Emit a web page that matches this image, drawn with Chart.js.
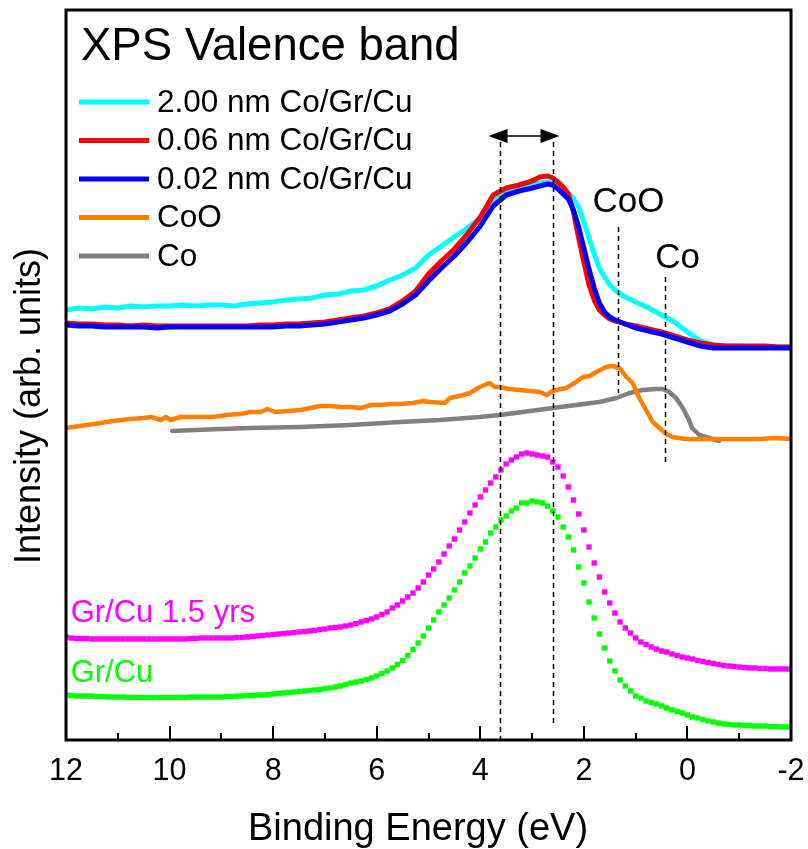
<!DOCTYPE html>
<html><head><meta charset="utf-8">
<script src="https://cdn.jsdelivr.net/npm/chart.js@4/dist/chart.umd.min.js"></script>
<style>html,body{margin:0;padding:0;background:#fff}#wrap{width:808px;height:849px;position:relative}</style>
</head><body><div id="wrap"><canvas id="c" width="808" height="849"></canvas></div>
<script>
// ---------- DATA (binding energy in eV, intensity in arb. units) ----------
const seriesNames = ['2.00 nm Co/Gr/Cu', '0.06 nm Co/Gr/Cu', '0.02 nm Co/Gr/Cu', 'CoO', 'Co'];
const grNames = ['Gr/Cu 1.5 yrs', 'Gr/Cu'];
const chartTitle = 'XPS Valence band';
const xTitle = 'Binding Energy (eV)';
const yTitle = 'Intensity (arb. units)';
const majorTicks = [12, 10, 8, 6, 4, 2, 0, -2];
const minorTicks = [11, 9, 7, 5, 3, 1, -1];

// Co/Gr/Cu films
const filmE = [12.0,11.75,11.5,11.25,11.0,10.75,10.5,10.25,10.0,9.75,
  9.5,9.25,9.0,8.75,8.5,8.25,8.0,7.75,7.5,7.25,
  7.0,6.75,6.5,6.25,6.0,5.75,5.5,5.25,5.0,4.75,
  4.5,4.25,4.0,3.75,3.5,3.25,3.0,2.85,2.7,2.6,
  2.5,2.4,2.3,2.2,2.1,2.0,1.9,1.8,1.7,1.6,
  1.5,1.4,1.3,1.2,1.0,0.75,0.5,0.25,0.0,-0.25,
  -0.5,-0.75,-1.0,-1.25,-1.5,-1.75,-2.0];
const co200I = [430,432,431,433,432,434,433,434,434,435,
  434,435,435,434,436,437,438,440,441,442,
  445,446,449,450,454,460,465,472,485,494,
  503,512,522,538,550,553,555,557,558,557,
  554,551,547,541,533,518,502,486,472,463,
  455,450,446,443,438,432,425,418,408,399,
  395,394,394,393,393,393,393];
const co006I = [417,416,416,415,415,414,415,414,414,414,
  414,414,414,414,414,415,415,416,416,417,
  418,420,422,424,427,431,439,449,466,479,
  491,506,523,545,552,555,559,563,564,562,
  558,553,546,528,502,478,455,440,430,425,
  421,419,418,416,414,411,408,404,400,397,
  395,394,394,394,394,393,393];
const co002I = [415,414,414,413,413,413,413,412,413,413,
  413,413,413,413,413,413,413,414,414,415,
  416,418,420,422,425,429,436,445,459,472,
  484,498,514,534,545,549,552,554,556,555,
  551,546,541,530,513,492,471,452,437,428,
  423,420,418,416,412,409,406,402,398,394,
  392,392,392,392,392,392,392];

// CoO reference
const coOE = [12.0,11.6,11.33,11.1,10.75,10.5,10.36,10.17,10.07,9.98,
  9.79,9.5,9.21,9.0,8.92,8.63,8.44,8.24,8.11,7.96,
  7.7,7.47,7.28,7.1,6.9,6.7,6.51,6.32,6.1,5.93,
  5.7,5.55,5.3,5.1,4.97,4.68,4.59,4.4,4.2,4.01,
  3.82,3.72,3.62,3.45,3.24,3.05,2.85,2.72,2.6,2.45,
  2.34,2.15,2.02,1.89,1.76,1.57,1.45,1.31,1.18,1.06,
  0.93,0.8,0.67,0.54,0.41,0.29,0.03,-0.3,-0.61,-1.0,
  -1.38,-1.7,-2.0];
const coOI = [312,315,317,319,321,322,323,320,323,320,
  323,323,323,324,325,326,328,328,331,328,
  329,330,332,334,334,333,333,332,335,335,
  336,336,337,339,338,337,342,344,347,353,
  357,353,353,351,350,349,348,345,349,351,
  352,358,363,364,368,373,374,372,363,357,
  342,330,318,312,306,303,301,301,301,301,
  301,302,301];

// Co reference
const coE = [9.95,9.5,9.0,8.44,7.47,6.51,5.55,4.78,4.01,3.62,2.6,1.7,1.37,1.12,0.87,0.61,0.48,0.35,0.22,0.09,-0.03,-0.09,-0.23,-0.42,-0.61];
const coI = [309,310,311,312,313,315,318,320,323,325,332,338,342,347,350,351,351,348,342,332,320,312,305,302,299];

// Graphene on Cu (scatter, 0.1 eV steps)
const grE = [12.0,11.9,11.8,11.7,11.6,11.5,11.4,11.3,11.2,11.1,
  11.0,10.9,10.8,10.7,10.6,10.5,10.4,10.3,10.2,10.1,
  10.0,9.9,9.8,9.7,9.6,9.5,9.4,9.3,9.2,9.1,
  9.0,8.9,8.8,8.7,8.6,8.5,8.4,8.3,8.2,8.1,
  8.0,7.9,7.8,7.7,7.6,7.5,7.4,7.3,7.2,7.1,
  7.0,6.9,6.8,6.7,6.6,6.5,6.4,6.3,6.2,6.1,
  6.0,5.9,5.8,5.7,5.6,5.5,5.4,5.3,5.2,5.1,
  5.0,4.9,4.8,4.7,4.6,4.5,4.4,4.3,4.2,4.1,
  4.0,3.9,3.8,3.7,3.6,3.5,3.4,3.3,3.2,3.1,
  3.0,2.9,2.8,2.7,2.6,2.5,2.4,2.3,2.2,2.1,
  2.0,1.9,1.8,1.7,1.6,1.5,1.4,1.3,1.2,1.1,
  1.0,0.9,0.8,0.7,0.6,0.5,0.4,0.3,0.2,0.1,
  0.0,-0.1,-0.2,-0.3,-0.4,-0.5,-0.6,-0.7,-0.8,-0.9,
  -1.0,-1.1,-1.2,-1.3,-1.4,-1.5,-1.6,-1.7,-1.8,-1.9,
  -2.0];
const grAgedI = [103,102,101.5,101.5,101.5,101,101,101,101,101,
  101,101,101,101,101,101,101,101,101,101,
  101,101,101,101,101.5,101.5,102,102,102,102,
  102,102,102,102.5,102.5,103,103.5,104,104.5,105,
  105.5,106,106.5,107,107.5,108,108.5,109,109.5,110.5,
  111,112,112.5,113,114,115,116.5,118,119.5,121,
  123,125.5,128,132,135,139,143,147,152,158,
  165,171,178,186,194,201,210,218,227,235,
  243,250,257,263,270,276,280,283,286,287,
  286,285,284,283,278,273,264,253,240,226,
  210,193,177,163,148,137,127,118,112,107,
  102,98,95.5,93,91,89,88,86,84.5,83,
  82,81,79.5,78.5,77.5,76.5,75.5,74.5,74,73.5,
  73,72.5,72,72,71.5,71.5,71,71,71,71,
  71];
const grFreshI = [45,44.5,44,44,44,44,43.5,43.5,43,43,
  43,43,42.5,42.5,42.5,42.5,42.5,42.5,42.5,42.5,
  42.5,42.5,42.5,42.5,43,43,43,43,43,43,
  43,43.5,43.5,44,44,44.5,44.5,45,45,45.5,
  46,46.5,47,47.5,48,48.5,49,49.5,50,50.5,
  51.5,52,53,54,55.5,57,58,59,60.5,62,
  64,66.5,69,72,75.5,79.5,84.5,90.5,97,104,
  112,120,128,135,142,150,158,167,174,182,
  191,198,207,213,220,224,229,232,237,237,
  239,238,237,234,229,223,213,203,190,173,
  157,138,122,106,92,79,69,60,54,49,
  44,42,39,37.5,36,34,32,30,28.5,27,
  25,23,22,20.5,19,18,17,16,15.5,15,
  15,14.5,14.5,14,14,14,13.5,13.5,13,13,
  13];

// Annotations (data coordinates)
const markE = [3.62, 2.60, 1.35, 0.43];
const markTop = [598, 598, 513, 463];
const markBottom = [0, 13, 347, 277];
const arrowE = [3.84, 2.47];
const arrowI = 604;
const peakNames = ['CoO', 'Co'];
const peakE = [1.14, 0.19];
const peakI = [528, 472];
const grLabelE = [11.91, 11.91];
const grLabelI = [118, 58];

// ---------- CHART ----------
const FONT = '"Liberation Sans", Arial, Helvetica, sans-serif';
Chart.defaults.font.family = FONT;
const pts = (e, v) => e.map((x, i) => ({x: x, y: v[i]}));
const colors = ['#00FFFF', '#FF0000', '#0000FF', '#FF8000', '#808080'];
const grColors = ['#FF00FF', '#00FF00'];
const widths = [5, 5, 5, 4.5, 4.5];

const deco = {
  id: 'deco',
  afterDatasetsDraw(chart) {
    const {ctx, chartArea: a, scales: {x, y}} = chart;
    ctx.save();
    ctx.strokeStyle = '#000';
    ctx.fillStyle = '#000';
    // dashed markers
    ctx.lineWidth = 1.5;
    ctx.setLineDash([5, 4]);
    markE.forEach((e, i) => {
      const px = Math.round(x.getPixelForValue(e)) + 0.5;
      ctx.beginPath();
      ctx.moveTo(px, y.getPixelForValue(markTop[i]));
      ctx.lineTo(px, y.getPixelForValue(markBottom[i]));
      ctx.stroke();
    });
    ctx.setLineDash([]);
    // double arrow
    const ax1 = x.getPixelForValue(arrowE[0]), ax2 = x.getPixelForValue(arrowE[1]), ay = y.getPixelForValue(arrowI);
    ctx.beginPath(); ctx.moveTo(ax1 + 10, ay); ctx.lineTo(ax2 - 10, ay); ctx.stroke();
    ctx.beginPath(); ctx.moveTo(ax1, ay); ctx.lineTo(ax1 + 19, ay - 7); ctx.lineTo(ax1 + 19, ay + 7); ctx.closePath(); ctx.fill();
    ctx.beginPath(); ctx.moveTo(ax2, ay); ctx.lineTo(ax2 - 19, ay - 7); ctx.lineTo(ax2 - 19, ay + 7); ctx.closePath(); ctx.fill();
    // frame
    ctx.lineWidth = 3;
    ctx.strokeRect(a.left, a.top, a.right - a.left, a.bottom - a.top);
    // inward ticks
    ctx.lineWidth = 2;
    majorTicks.forEach(v => { const px = Math.round(x.getPixelForValue(v)); ctx.beginPath(); ctx.moveTo(px, a.bottom); ctx.lineTo(px, a.bottom - 14); ctx.stroke(); });
    minorTicks.forEach(v => { const px = Math.round(x.getPixelForValue(v)); ctx.beginPath(); ctx.moveTo(px, a.bottom); ctx.lineTo(px, a.bottom - 7); ctx.stroke(); });
    // peak labels
    ctx.font = '35px ' + FONT;
    ctx.textAlign = 'center';
    ctx.textBaseline = 'alphabetic';
    peakNames.forEach((t, i) => ctx.fillText(t, x.getPixelForValue(peakE[i]), y.getPixelForValue(peakI[i])));
    // graphene labels
    ctx.font = '31px ' + FONT;
    ctx.textAlign = 'left';
    grNames.forEach((t, i) => { ctx.fillStyle = grColors[i]; ctx.fillText(t, x.getPixelForValue(grLabelE[i]), y.getPixelForValue(grLabelI[i])); });
    // title
    ctx.fillStyle = '#000';
    ctx.font = '45.5px ' + FONT;
    ctx.fillText(chartTitle, 81, 60);
    // legend
    ctx.font = '31.5px ' + FONT;
    ctx.textBaseline = 'middle';
    seriesNames.forEach((t, i) => {
      const ly = 102 + i * 38.5;
      ctx.strokeStyle = colors[i];
      ctx.lineWidth = 5;
      ctx.beginPath(); ctx.moveTo(79, ly); ctx.lineTo(149, ly); ctx.stroke();
      ctx.fillStyle = '#000';
      ctx.fillText(t, 157, ly + 1);
    });
    // axis titles
    ctx.textAlign = 'center';
    ctx.textBaseline = 'alphabetic';
    ctx.font = '38px ' + FONT;
    ctx.fillText(xTitle, 418, 840);
    ctx.font = '36px ' + FONT;
    ctx.translate(40, 406);
    ctx.rotate(-Math.PI / 2);
    ctx.fillText(yTitle, 0, 0);
    ctx.restore();
  }
};

const lineDs = (i, e, v, order) => ({
  label: seriesNames[i], data: pts(e, v), borderColor: colors[i], backgroundColor: colors[i],
  borderWidth: widths[i], pointRadius: 0, tension: 0, order: order, borderJoinStyle: 'round', borderCapStyle: 'round'
});
const dotDs = (i, v, order) => ({
  label: grNames[i], data: pts(grE, v), showLine: false, pointStyle: 'rect', pointRadius: 3.8,
  pointBorderWidth: 0, pointBackgroundColor: grColors[i], backgroundColor: grColors[i], borderColor: grColors[i], order: order
});

new Chart(document.getElementById('c'), {
  type: 'line',
  data: {
    datasets: [
      lineDs(0, filmE, co200I, 5),
      lineDs(1, filmE, co006I, 4),
      lineDs(2, filmE, co002I, 3),
      lineDs(3, coOE, coOI, 6),
      lineDs(4, coE, coI, 7),
      dotDs(0, grAgedI, 2),
      dotDs(1, grFreshI, 1)
    ]
  },
  options: {
    responsive: false,
    devicePixelRatio: 1,
    animation: false,
    layout: {padding: {left: 66, right: 17, top: 10, bottom: 0}},
    plugins: {legend: {display: false}, tooltip: {enabled: false}, title: {display: false}},
    scales: {
      x: {
        type: 'linear', min: -2, max: 12, reverse: true,
        afterBuildTicks: s => { s.ticks = majorTicks.map(v => ({value: v})); },
        afterFit: s => { s.height = 109; s.paddingLeft = 0; s.paddingRight = 0; },
        grid: {display: false, drawTicks: false},
        border: {display: false},
        ticks: {color: '#000', font: {size: 30.5, family: FONT}, padding: 13.5, maxRotation: 0, autoSkip: false, callback: v => String(v)}
      },
      y: {type: 'linear', min: 0, max: 730, display: false}
    }
  },
  plugins: [deco]
});
</script></body></html>
